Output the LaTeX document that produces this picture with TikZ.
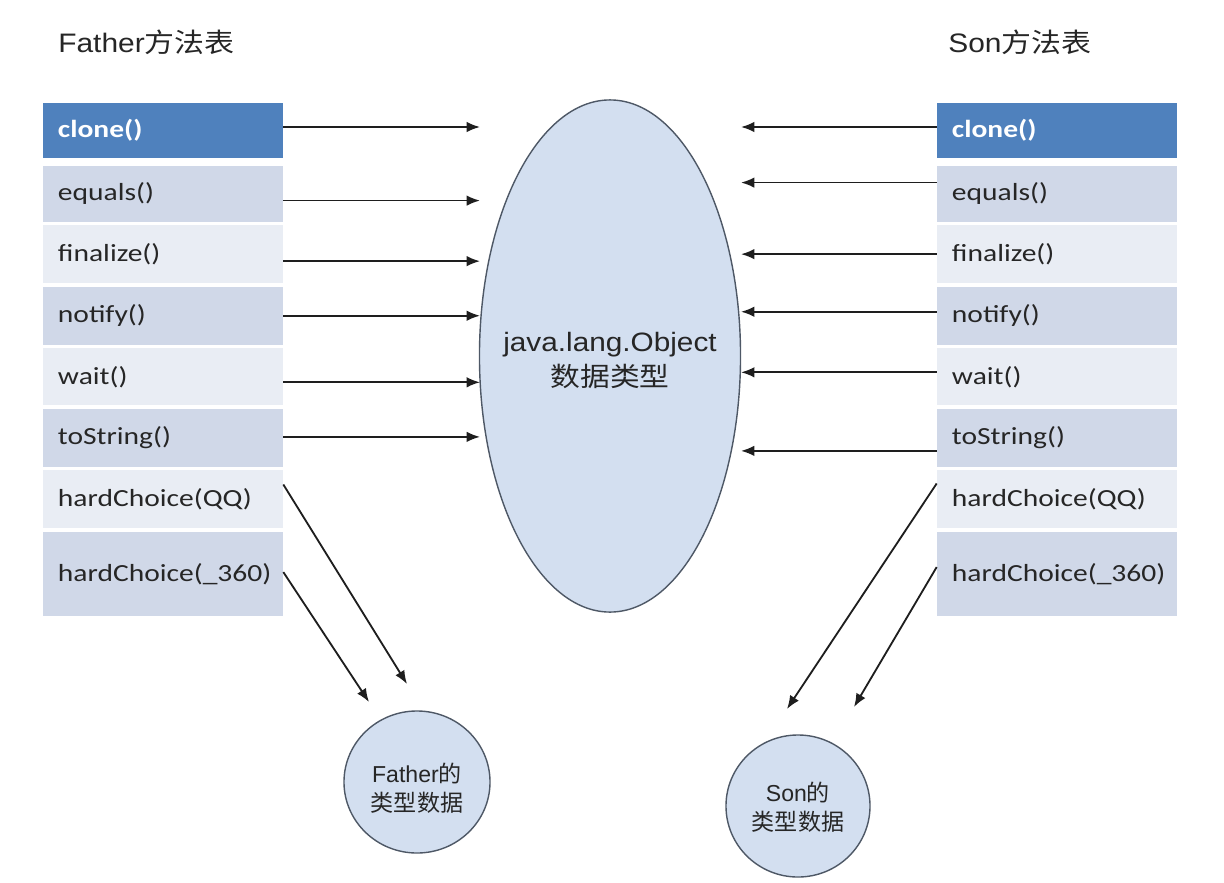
\documentclass[tikz,border=0pt]{standalone}
\usepackage{fontspec}
\setmainfont{Liberation Sans}[FakeStretch=1.12]
\newfontfamily\zhfont{Noto Sans CJK SC}[FakeStretch=1.12]
\newfontfamily\circlefont{Liberation Sans}
\newfontfamily\zhcirclefont{Noto Sans CJK SC}
\newfontfamily\tabfont{Carlito}[FakeStretch=1.2]
\usepackage{tikz}
\usetikzlibrary{arrows.meta}
\usetikzlibrary{shapes.geometric}
\usetikzlibrary{positioning}
\definecolor{hdrblue}{HTML}{4F81BD}
\definecolor{rowdark}{HTML}{D0D8E8}
\definecolor{rowlight}{HTML}{E9EDF4}
\definecolor{ellfill}{HTML}{D3DFF0}
\definecolor{ellline}{HTML}{4E5866}
\definecolor{txtdark}{HTML}{262626}
\definecolor{linegray}{HTML}{1E1E1E}
\newcommand*{\zhtxt}[1]{{\zhfont #1}}
\newcommand*{\zhcirc}[1]{{\zhcirclefont #1}}

\begin{document}
\begin{tikzpicture}[x=0.025cm, y=-0.025cm,
	meth/.style = {text width=5.25cm, inner xsep=0.375cm, inner ysep=0pt,
	               align=left, text=txtdark,
	               font=\tabfont\fontsize{17.5pt}{21pt}\selectfont},
	methhead/.style = {meth, fill=hdrblue, text=white,
	                   font=\tabfont\bfseries\fontsize{17.5pt}{21pt}\selectfont},
	methdark/.style = {meth, fill=rowdark},
	methlight/.style = {meth, fill=rowlight},
	tabletitle/.style = {anchor=base west, inner sep=0pt, text=txtdark,
	                     font=\fontsize{19pt}{23pt}\selectfont},
	typedata/.style = {ellipse, draw=ellline, fill=ellfill, line width=1pt,
	                   inner sep=0pt},
	typetext/.style = {align=center, inner sep=0pt, text=txtdark},
	circletext/.style = {typetext, font=\circlefont\fontsize{16.4pt}{20.6pt}\selectfont},
	call/.style = {-{Latex[length=9.5pt,width=7.5pt]}, line width=1.3pt, draw=linegray}]
		\useasboundingbox (0,0) rectangle (1224,882);
		\coordinate (ltip) at (480,0);
		\coordinate (rtip) at (741,0);

		\node[tabletitle] (ftitle) at (58,52) {Father\zhtxt{方法表}};
		\node[tabletitle] (stitle) at (948,52) {Son\zhtxt{方法表}};

		% Father
		\node[methhead, minimum height=1.375cm] (fclone) at (163,130.5) {clone()};
		\node[methdark, minimum height=1.4cm, below=0.175cm of fclone] (fequals) {equals()};
		\node[methlight, minimum height=1.45cm, below=0.075cm of fequals] (ffinalize) {finalize()};
		\node[methdark, minimum height=1.45cm, below=0.075cm of ffinalize] (fnotify) {notify()};
		\node[methlight, minimum height=1.425cm, below=0.075cm of fnotify] (fwait) {wait()};
		\node[methdark, minimum height=1.45cm, below=0.075cm of fwait] (ftostring) {toString()};
		\node[methlight, minimum height=1.45cm, below=0.075cm of ftostring] (fqq) {hardChoice(QQ)};
		\node[methdark, minimum height=2.1cm, below=0.075cm of fqq] (f360) {hardChoice(\_360)};

		% Son
		\node[methhead, minimum height=1.375cm] (sclone) at (1057,130.5) {clone()};
		\node[methdark, minimum height=1.4cm, below=0.175cm of sclone] (sequals) {equals()};
		\node[methlight, minimum height=1.45cm, below=0.075cm of sequals] (sfinalize) {finalize()};
		\node[methdark, minimum height=1.45cm, below=0.075cm of sfinalize] (snotify) {notify()};
		\node[methlight, minimum height=1.425cm, below=0.075cm of snotify] (swait) {wait()};
		\node[methdark, minimum height=1.45cm, below=0.075cm of swait] (stostring) {toString()};
		\node[methlight, minimum height=1.45cm, below=0.075cm of stostring] (sqq) {hardChoice(QQ)};
		\node[methdark, minimum height=2.1cm, below=0.075cm of sqq] (s360) {hardChoice(\_360)};

		\node[typedata, minimum width=6.525cm, minimum height=12.8cm] (object) at (610,356) {};
		\node[typetext, font=\fontsize{18.9pt}{24.9pt}\selectfont] (objtext)
			at ([yshift=-0.11cm]object.center) {java.lang.Object\\\zhtxt{数据类型}};

		\node[typedata, minimum width=3.65cm, minimum height=3.55cm] (fdata) at (417,782) {};
		\node[circletext] (fdatatext)
			at ([yshift=-0.15cm]fdata.center) {Father\zhcirc{的}\\\zhcirc{类型数据}};
		\node[typedata, minimum width=3.6cm, minimum height=3.55cm] (sdata) at (798,806) {};
		\node[circletext] (sdatatext)
			at ([yshift=-0.03cm]sdata.center) {Son\zhcirc{的}\\\zhcirc{类型数据}};

		\coordinate (fqqtip) at (407,684);
		\coordinate (f360tip) at (369,702);
		\coordinate (sqqtip) at (787,709);
		\coordinate (s360tip) at (854,707);

		\draw[call] ([yshift=0.0875cm]fclone.east) coordinate (fa1) -- (fa1 -| ltip);
		\draw[call] ([yshift=-0.175cm]fequals.east) coordinate (fa2) -- (fa2 -| ltip);
		\draw[call] ([yshift=-0.175cm]ffinalize.east) coordinate (fa3) -- (fa3 -| ltip);
		\draw[call] (fnotify.east) -- (fnotify.east -| ltip);
		\draw[call] ([yshift=-0.1375cm]fwait.east) coordinate (fa5) -- (fa5 -| ltip);
		\draw[call] ([yshift=0.025cm]ftostring.east) coordinate (fa6) -- (fa6 -| ltip);
		\draw[call] ([yshift=0.375cm]fqq.east) -- (fqqtip);
		\draw[call] ([yshift=0.05cm]f360.east) -- (f360tip);

		\draw[call] ([yshift=0.0875cm]sclone.west) coordinate (sa1) -- (sa1 -| rtip);
		\draw[call] ([yshift=0.275cm]sequals.west) coordinate (sa2) -- (sa2 -| rtip);
		\draw[call] (sfinalize.west) -- (sfinalize.west -| rtip);
		\draw[call] ([yshift=0.1cm]snotify.west) coordinate (sa4) -- (sa4 -| rtip);
		\draw[call] ([yshift=0.1125cm]swait.west) coordinate (sa5) -- (sa5 -| rtip);
		\draw[call] ([yshift=-0.325cm]stostring.west) coordinate (sa6) -- (sa6 -| rtip);
		\draw[call] ([yshift=0.4cm]sqq.west) -- (sqqtip);
		\draw[call] ([yshift=0.175cm]s360.west) -- (s360tip);
\end{tikzpicture}
\end{document}
